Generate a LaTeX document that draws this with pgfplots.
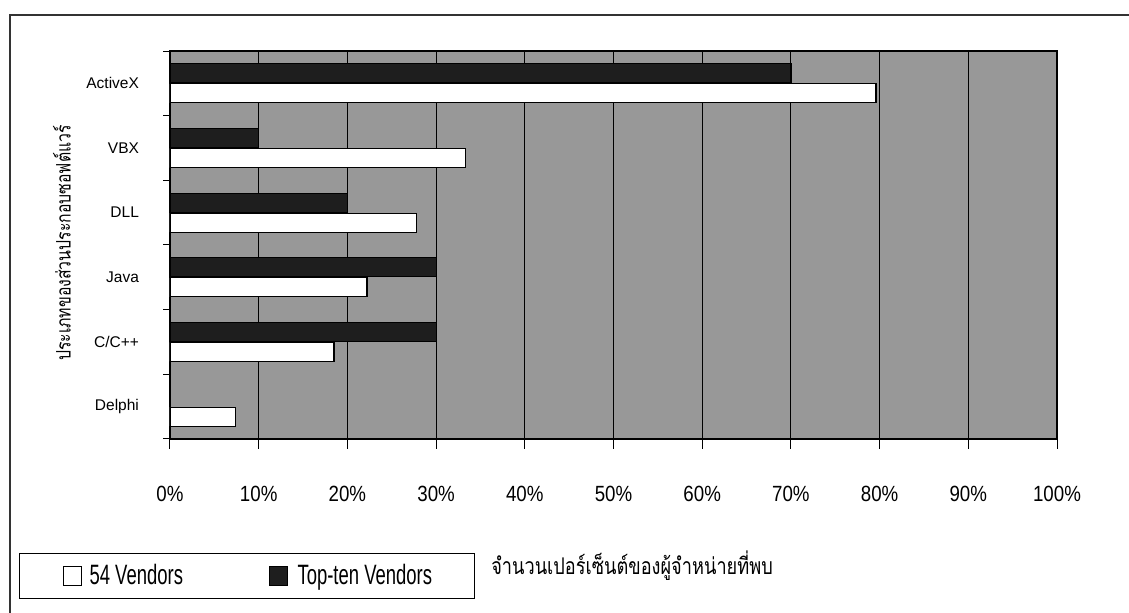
\documentclass[border=0pt]{standalone}
\usepackage{fontspec}
\setmainfont{Liberation Sans}
\newfontfamily\tickfont[FakeStretch=0.85]{Liberation Sans}
\newfontfamily\legfont[FakeStretch=0.66]{Liberation Sans}
\newfontfamily\thainarrow[Script=Thai,FakeStretch=0.79]{Loma}
\usepackage{pgfplots}
\pgfplotsset{compat=1.18}
\definecolor{bggray}{RGB}{152,152,152}
\definecolor{barblack}{RGB}{30,30,30}
\begin{document}
\begin{tikzpicture}
\useasboundingbox (0,0) rectangle (564.5pt,306.5pt);
\draw[line width=0.6pt,black!80] (5pt,0) -- (5pt,299pt) -- (564.5pt,299pt);
\begin{axis}[
  at={(85pt,87pt)}, anchor=south west,
  scale only axis, width=443.5pt, height=194pt,
  xbar, bar width=9.5pt,
  xmin=0, xmax=100, ymin=-0.5, ymax=5.5,
  axis background/.style={fill=bggray},
  axis line style={black, line width=0.8pt},
  xtick pos=bottom, ytick pos=left,
  xtick={0,10,...,100},
  xticklabels={0\%,10\%,20\%,30\%,40\%,50\%,60\%,70\%,80\%,90\%,100\%},
  xticklabel style={font=\tickfont\fontsize{11}{13}\selectfont, yshift=-15pt},
  xmajorgrids, grid style={black, line width=0.5pt},
  tick align=outside,
  x tick style={black, line width=0.5pt},
  major tick length=5pt,
  ytick={0,...,5},
  yticklabels={Delphi,C/C++,Java,DLL,VBX,ActiveX},
  yticklabel style={font=\fontsize{7.75}{9}\selectfont, xshift=-7pt},
  y tick style={draw=none},
  minor ytick={-0.5,0.5,...,5.5},
  minor y tick style={draw=black, line width=0.5pt},
  minor tick length=3.5pt,
  legend columns=2,
  legend image code/.code={\draw[#1,draw=black,line width=0.5pt] (0pt,-4.75pt) rectangle (9pt,4.75pt);},
  legend style={at={(-0.1702,-0.4124)}, anchor=south west, draw=black, line width=0.5pt,
    inner xsep=21.5pt, inner ysep=5.5pt,
    nodes={inner sep=0pt},
    font=\legfont\fontsize{14}{16}\selectfont,
    /tikz/every even column/.append style={column sep=0pt}},
]
\addplot[fill=white, draw=black, line width=0.6pt, bar shift=-5pt] coordinates {
 (7.4,0) (18.5,1) (22.2,2) (27.8,3) (33.3,4) (79.6,5)};
\addlegendentry{\makebox[93.5pt][l]{\hspace{4pt}54 Vendors}}
\addplot[fill=barblack, draw=black, line width=0.6pt, bar shift=5pt] coordinates {
 (30,1) (30,2) (20,3) (10,4) (70,5)};
\addlegendentry{\makebox[72pt][l]{\hspace{5pt}Top-ten Vendors}}
\end{axis}
\node[rotate=90, font=\thainarrow\fontsize{10}{12}\selectfont] at (31pt,185pt) {ประเภทของส่วนประกอบซอฟต์แวร์};
\node[font=\thainarrow\fontsize{11.5}{13}\selectfont] at (316pt,23.5pt) {จำนวนเปอร์เซ็นต์ของผู้จำหน่ายที่พบ};
\end{tikzpicture}
\end{document}
